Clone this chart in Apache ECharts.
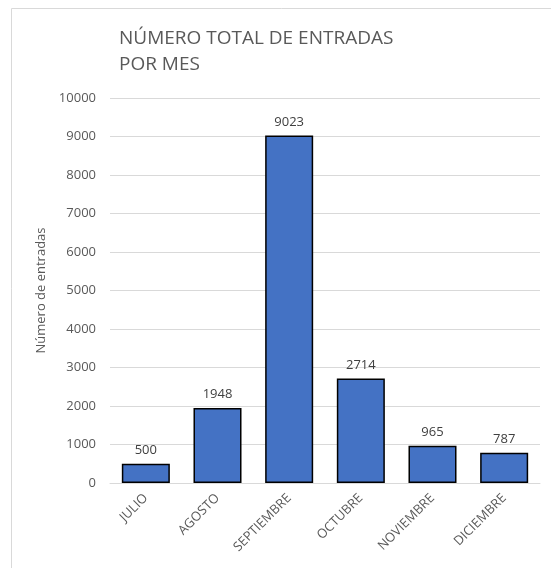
<!DOCTYPE html>
<html><head><meta charset="utf-8">
<script src="https://cdn.jsdelivr.net/npm/echarts@6/dist/echarts.min.js"></script>
<style>html,body{margin:0;padding:0;background:#fff}#c{width:551px;height:568px}</style>
</head><body><div id="c"></div>
<script>
const categories = ['JULIO','AGOSTO','SEPTIEMBRE','OCTUBRE','NOVIEMBRE','DICIEMBRE'];
const entradas = [500, 1948, 9023, 2714, 965, 787];
const yTicks = [0,1000,2000,3000,4000,5000,6000,7000,8000,9000,10000];
const chart = echarts.init(document.getElementById('c'));
const F = 'Open Sans, Liberation Sans, sans-serif';
chart.setOption({
  animation:false,
  graphic:[{type:'rect',shape:{x:11.5,y:8.5,width:560,height:580},style:{fill:'none',stroke:'#d9d9d9',lineWidth:1}}],
  title:{text:'NÚMERO TOTAL DE ENTRADAS\nPOR MES',left:114,top:21,textStyle:{fontFamily:F,fontSize:19,fontWeight:'normal',color:'#595959',lineHeight:26}},
  grid:{left:110,right:11,top:98,bottom:85},
  xAxis:{type:'category',data:categories,
    axisLine:{lineStyle:{color:'#d9d9d9'}},axisTick:{show:false},
    axisLabel:{rotate:45,color:'#595959',fontFamily:F,fontSize:13,interval:0,margin:13}},
  yAxis:{type:'value',min:yTicks[0],max:yTicks[yTicks.length-1],interval:1000,
    name:'Número de entradas',nameLocation:'middle',nameGap:60,nameTextStyle:{color:'#595959',fontFamily:F,fontSize:13},
    axisLine:{show:false},axisTick:{show:false},
    axisLabel:{color:'#595959',fontFamily:F,fontSize:13,margin:14,formatter:v=>String(v)},
    splitLine:{lineStyle:{color:'#d9d9d9'}}},
  series:[{type:'bar',data:entradas,barCategoryGap:'33%',
    itemStyle:{color:'#4472C4',borderColor:'#000',borderWidth:1.5},
    label:{show:true,position:'top',distance:7,color:'#404040',fontFamily:F,fontSize:13}}]
});
</script></body></html>
